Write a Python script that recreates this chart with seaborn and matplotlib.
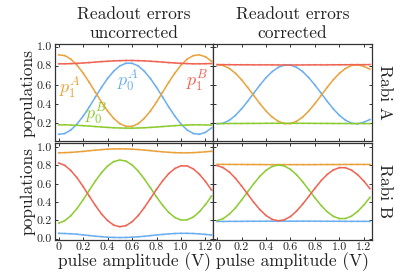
import matplotlib
matplotlib.use("Agg")
import matplotlib.pyplot as plt
import pandas as pd
import seaborn as sns

# pulse amplitude (V)
amplitude = [0.00, 0.05, 0.10, 0.15, 0.20, 0.25, 0.30, 0.35, 0.40, 0.45, 0.50, 0.55, 0.60,
             0.65, 0.70, 0.75, 0.80, 0.85, 0.90, 0.95, 1.00, 1.05, 1.10, 1.15, 1.20, 1.25]

# Rabi A, readout errors uncorrected
a_unc_p0A = [0.081, 0.089, 0.126, 0.188, 0.271, 0.367, 0.471, 0.573, 0.667, 0.743, 0.798, 0.826, 0.826,
             0.798, 0.743, 0.666, 0.573, 0.471, 0.367, 0.271, 0.188, 0.126, 0.089, 0.081, 0.101, 0.148]
a_unc_p1A = [0.914, 0.906, 0.869, 0.806, 0.723, 0.626, 0.522, 0.419, 0.325, 0.248, 0.192, 0.164, 0.164,
             0.192, 0.248, 0.325, 0.419, 0.522, 0.627, 0.723, 0.806, 0.869, 0.906, 0.914, 0.894, 0.846]
a_unc_p0B = [0.180, 0.180, 0.178, 0.175, 0.171, 0.167, 0.162, 0.157, 0.153, 0.149, 0.147, 0.145, 0.145,
             0.147, 0.149, 0.153, 0.157, 0.162, 0.167, 0.171, 0.175, 0.178, 0.180, 0.180, 0.179, 0.177]
a_unc_p1B = [0.820, 0.820, 0.822, 0.825, 0.829, 0.833, 0.838, 0.843, 0.847, 0.851, 0.853, 0.855, 0.855,
             0.853, 0.851, 0.847, 0.843, 0.838, 0.833, 0.829, 0.825, 0.822, 0.820, 0.820, 0.821, 0.823]

# Rabi A, readout errors corrected
a_cor_p0A = [0.191, 0.197, 0.228, 0.279, 0.347, 0.427, 0.513, 0.597, 0.675, 0.738, 0.783, 0.807, 0.807,
             0.783, 0.738, 0.674, 0.597, 0.513, 0.427, 0.347, 0.279, 0.228, 0.197, 0.191, 0.207, 0.236]
a_cor_p1A = [0.809, 0.803, 0.772, 0.721, 0.653, 0.573, 0.487, 0.403, 0.325, 0.262, 0.217, 0.193, 0.193,
             0.217, 0.262, 0.326, 0.403, 0.487, 0.573, 0.653, 0.721, 0.772, 0.803, 0.809, 0.793, 0.764]
a_cor_p0B = [0.193, 0.193, 0.194, 0.194, 0.194, 0.195, 0.195, 0.195, 0.196, 0.196, 0.196, 0.196, 0.196,
             0.196, 0.196, 0.196, 0.195, 0.195, 0.195, 0.194, 0.194, 0.194, 0.193, 0.193, 0.193, 0.193]
a_cor_p1B = [0.812, 0.811, 0.811, 0.810, 0.810, 0.810, 0.809, 0.809, 0.809, 0.809, 0.808, 0.808, 0.808,
             0.808, 0.808, 0.809, 0.809, 0.809, 0.809, 0.810, 0.810, 0.810, 0.811, 0.811, 0.811, 0.812]

# Rabi B, readout errors uncorrected
b_unc_p0A = [0.058, 0.056, 0.053, 0.048, 0.041, 0.034, 0.027, 0.021, 0.016, 0.013, 0.012, 0.013, 0.016,
             0.020, 0.026, 0.033, 0.040, 0.046, 0.052, 0.056, 0.058, 0.058, 0.056, 0.052, 0.046, 0.040]
b_unc_p1A = [0.938, 0.940, 0.943, 0.948, 0.954, 0.961, 0.967, 0.973, 0.978, 0.981, 0.982, 0.981, 0.978,
             0.974, 0.968, 0.962, 0.955, 0.949, 0.944, 0.940, 0.938, 0.938, 0.940, 0.944, 0.949, 0.955]
b_unc_p0B = [0.169, 0.196, 0.251, 0.330, 0.425, 0.528, 0.630, 0.721, 0.794, 0.842, 0.860, 0.848, 0.806,
             0.739, 0.653, 0.556, 0.456, 0.364, 0.286, 0.231, 0.203, 0.205, 0.236, 0.293, 0.372, 0.465]
b_unc_p1B = [0.827, 0.801, 0.744, 0.666, 0.569, 0.465, 0.363, 0.270, 0.197, 0.148, 0.130, 0.142, 0.184,
             0.252, 0.339, 0.438, 0.539, 0.632, 0.711, 0.767, 0.796, 0.795, 0.763, 0.705, 0.625, 0.531]

# Rabi B, readout errors corrected
b_cor_p0A = [0.188, 0.188, 0.189, 0.189, 0.189, 0.190, 0.190, 0.190, 0.191, 0.191, 0.191, 0.191, 0.191,
             0.191, 0.191, 0.191, 0.191, 0.190, 0.190, 0.190, 0.190, 0.189, 0.189, 0.189, 0.189, 0.189]
b_cor_p1A = [0.812, 0.812, 0.811, 0.811, 0.811, 0.810, 0.810, 0.810, 0.809, 0.809, 0.809, 0.809, 0.809,
             0.809, 0.809, 0.809, 0.809, 0.810, 0.810, 0.810, 0.810, 0.811, 0.811, 0.811, 0.811, 0.811]
b_cor_p0B = [0.196, 0.219, 0.268, 0.336, 0.421, 0.512, 0.601, 0.682, 0.747, 0.789, 0.805, 0.794, 0.757,
             0.698, 0.621, 0.534, 0.446, 0.363, 0.294, 0.244, 0.219, 0.220, 0.247, 0.298, 0.368, 0.451]
b_cor_p1B = [0.799, 0.776, 0.728, 0.660, 0.576, 0.486, 0.397, 0.317, 0.253, 0.211, 0.195, 0.206, 0.242,
             0.302, 0.378, 0.463, 0.551, 0.633, 0.702, 0.751, 0.776, 0.775, 0.748, 0.698, 0.628, 0.546]

states = ["p0A", "p1A", "p0B", "p1B"]
colors = {"p0A": "#6aaef0", "p1A": "#e9a23b", "p0B": "#8ccb30", "p1B": "#ee6352"}

col_titles = ["Readout errors\nuncorrected", "Readout errors\ncorrected"]
row_labels = ["Rabi A", "Rabi B"]
x_ticks = [0, 0.2, 0.4, 0.6, 0.8, 1.0, 1.2]
x_ticklabels = ["0", "0.2", "0.4", "0.6", "0.8", "1.0", "1.2"]
y_ticks = [0.0, 0.2, 0.4, 0.6, 0.8, 1.0]
y_ticklabels = ["0.0", "0.2", "0.4", "0.6", "0.8", "1.0"]


def panel_frame(p0A, p1A, p0B, p1B):
    n = len(amplitude)
    return pd.DataFrame({
        "amplitude": amplitude * 4,
        "population": p0A + p1A + p0B + p1B,
        "state": sum([[s] * n for s in states], []),
    })


panels = [
    [panel_frame(a_unc_p0A, a_unc_p1A, a_unc_p0B, a_unc_p1B),
     panel_frame(a_cor_p0A, a_cor_p1A, a_cor_p0B, a_cor_p1B)],
    [panel_frame(b_unc_p0A, b_unc_p1A, b_unc_p0B, b_unc_p1B),
     panel_frame(b_cor_p0A, b_cor_p1A, b_cor_p0B, b_cor_p1B)],
]

sns.set_theme(style="ticks")
plt.rcParams["font.family"] = ["cmr10", "DejaVu Serif"]
plt.rcParams["mathtext.fontset"] = "cm"
plt.rcParams["axes.formatter.use_mathtext"] = True
plt.rcParams["axes.unicode_minus"] = False

fig, axes = plt.subplots(2, 2, figsize=(4.15, 2.76), dpi=100)
fig.subplots_adjust(left=0.1325, right=0.896, top=0.8406, bottom=0.1304, wspace=0, hspace=0.016)

for r in range(2):
    for c in range(2):
        ax = axes[r, c]
        df = panels[r][c]
        sns.scatterplot(data=df, x="amplitude", y="population", hue="state", palette=colors,
                        ax=ax, legend=False, s=3, alpha=0.35, linewidth=0)
        sns.lineplot(data=df, x="amplitude", y="population", hue="state", palette=colors,
                     ax=ax, legend=False, linewidth=1.1)
        ax.set_xlim(-0.03, 1.265)
        # top row starts just above zero, so its 0.0 tick is dropped
        first = 1 if r == 0 else 0
        if r == 0:
            ax.set_ylim(0.008, 1.028)
        else:
            ax.set_ylim(-0.015, 1.048)
        ax.set_xticks(x_ticks)
        ax.set_yticks(y_ticks[first:])
        ax.tick_params(direction="in", length=2.5, width=0.7, color="#333333",
                       labelsize=8.6, pad=2, top=True, right=True, labelcolor="#222222")
        for sp in ax.spines.values():
            sp.set_color("#333333")
            sp.set_linewidth(0.9)
        if r == 1:
            ax.set_xticklabels(x_ticklabels)
            ax.set_xlabel("pulse amplitude (V)", fontsize=12.5, labelpad=0, color="#222222")
        else:
            ax.set_xticklabels([])
            ax.set_xlabel("")
            ax.set_title(col_titles[c], fontsize=12.5, pad=4, linespacing=1.3, color="#222222")
        if c == 0:
            ax.set_yticklabels(y_ticklabels[first:])
            ax.set_ylabel("populations", fontsize=12.5, labelpad=1, color="#222222")
        else:
            ax.set_yticklabels([])
            ax.yaxis.set_label_position("right")
            ax.set_ylabel(row_labels[r], fontsize=12.5, rotation=270, labelpad=15, color="#222222")

ax = axes[0, 0]
ax.text(0.095, 0.56, r"$p_1^A$", color=colors["p1A"], fontsize=13, ha="center", va="center")
ax.text(0.57, 0.64, r"$p_0^A$", color=colors["p0A"], fontsize=13, ha="center", va="center")
ax.text(1.135, 0.63, r"$p_1^B$", color=colors["p1B"], fontsize=13, ha="center", va="center")
ax.text(0.31, 0.29, r"$p_0^B$", color=colors["p0B"], fontsize=13, ha="center", va="center")

fig.savefig("out.png", dpi=100)
